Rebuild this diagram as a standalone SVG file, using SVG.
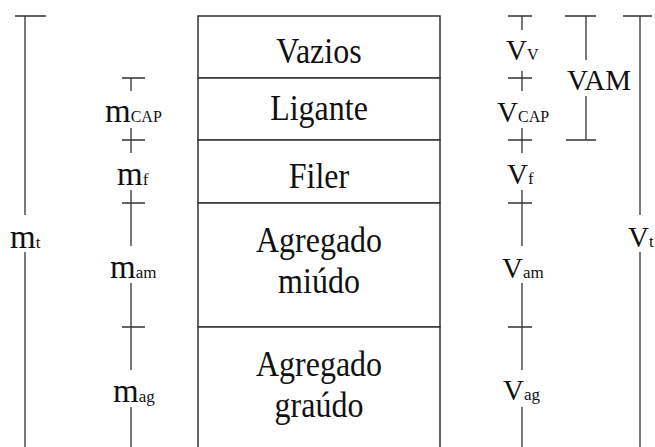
<svg xmlns="http://www.w3.org/2000/svg" width="655" height="447" viewBox="0 0 655 447">
<style>
.cell{fill:#fff;stroke:#333;stroke-width:1.5}
.dim{stroke:#333;stroke-width:1.3;fill:none}
.lbl{font-family:'Liberation Serif','DejaVu Serif',serif;font-size:32px;fill:#111;text-anchor:middle}
.sym{font-family:'Liberation Serif','DejaVu Serif',serif;font-size:33px;fill:#111}
.sub{font-size:17px}
</style>
<rect width="655" height="447" fill="#fff"/>
<g id="vazios"><rect class="cell" x="198" y="16" width="242" height="62"/><text class="lbl" transform="translate(319,63) scale(1,1.12)">Vazios</text></g>
<g id="ligante"><rect class="cell" x="198" y="78" width="242" height="62"/><text class="lbl" transform="translate(319,120) scale(1,1.12)">Ligante</text></g>
<g id="filer"><rect class="cell" x="198" y="140" width="242" height="63"/><text class="lbl" transform="translate(319,188) scale(1,1.12)">Filer</text></g>
<g id="agregado-miudo"><rect class="cell" x="198" y="203" width="242" height="124"/><text class="lbl" transform="translate(319,252) scale(1,1.12)">Agregado</text><text class="lbl" transform="translate(319,293) scale(1,1.12)">miúdo</text></g>
<g id="agregado-graudo"><rect class="cell" x="198" y="327" width="242" height="140"/><text class="lbl" transform="translate(319,376) scale(1,1.12)">Agregado</text><text class="lbl" transform="translate(319,417) scale(1,1.12)">graúdo</text></g>
<g id="connectors" class="dim">
<path d="M15 16H46M25 16V215M25 252V447"/>
<path d="M122 78H145M131 78V91M131 128V153M122 140H145M131 190V246M122 203H145M131 283V370M122 327H145M131 407V447"/>
<path d="M508 16H532M522 16V30M522 71V91M508 78H532M522 128V153M508 140H532M522 190V246M508 203H532M522 283V370M508 327H532M522 407V447"/>
<path d="M565 16H596M586 16V60M586 96V140M566 140H596"/>
<path d="M623 16H652M640 16V215M640 252V447"/>
</g>
<g id="labels" class="sym">
<text x="10" y="248">m<tspan class="sub">t</tspan></text>
<text x="105" y="122">m<tspan style="font-size:16px">CAP</tspan></text>
<text x="117" y="185">m<tspan class="sub">f</tspan></text>
<text x="110" y="278">m<tspan class="sub">am</tspan></text>
<text x="113" y="402">m<tspan class="sub">ag</tspan></text>
<text x="506" y="60" style="font-size:29px">V<tspan style="font-size:16px">V</tspan></text>
<text x="497" y="122" style="font-size:29px">V<tspan style="font-size:16px">CAP</tspan></text>
<text x="507" y="184" style="font-size:29px">V<tspan class="sub">f</tspan></text>
<text x="502" y="278" style="font-size:29px">V<tspan class="sub">am</tspan></text>
<text x="503" y="400" style="font-size:29px">V<tspan class="sub">ag</tspan></text>
<text x="628" y="247" style="font-size:29px">V<tspan class="sub">t</tspan></text>
<text x="567" y="90" style="font-size:29px">VAM</text>
</g>
</svg>
